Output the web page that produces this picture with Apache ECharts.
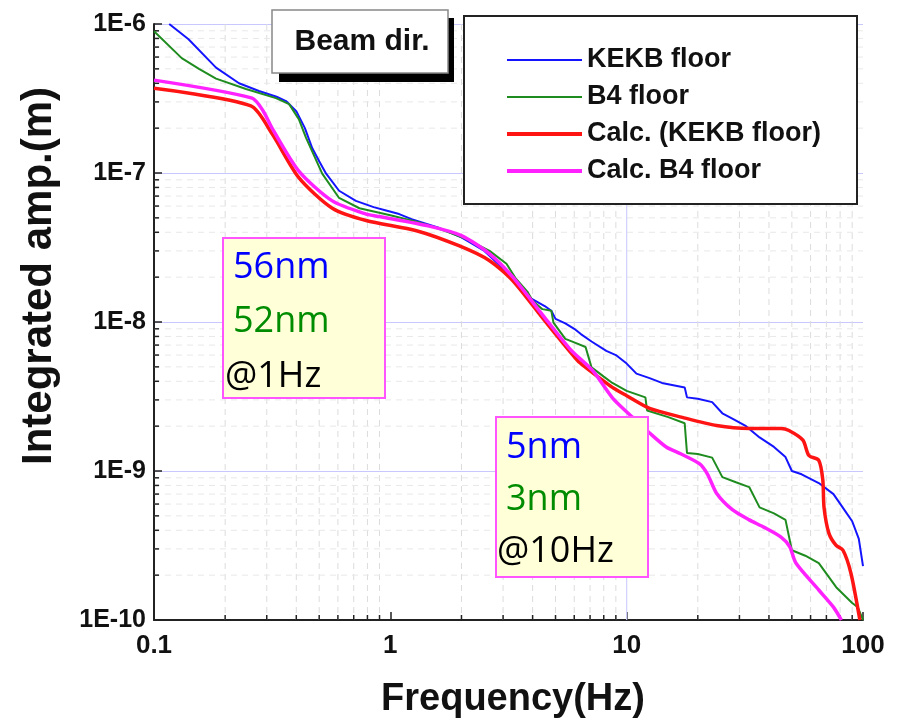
<!DOCTYPE html>
<html>
<head>
<meta charset="utf-8">
<script src="https://cdn.jsdelivr.net/npm/echarts@6/dist/echarts.min.js"></script>
<style>
  html, body { margin: 0; padding: 0; background: #fff; }
  #chart { width: 910px; height: 728px; }
</style>
</head>
<body>
<div id="chart"></div>
<script>
// [frequency (Hz), integrated amplitude (m)]
const kekbFloor = [
  [0.116, 1.0e-6], [0.14, 7.9e-7], [0.183, 5.1e-7], [0.229, 4.0e-7], [0.278, 3.55e-7],
  [0.33, 3.25e-7], [0.362, 3.04e-7], [0.40, 2.6e-7], [0.435, 2.0e-7], [0.467, 1.47e-7],
  [0.5, 1.2e-7], [0.535, 9.9e-8], [0.607, 7.6e-8], [0.715, 6.5e-8], [0.85, 5.9e-8],
  [0.96, 5.6e-8], [1.09, 5.3e-8], [1.23, 4.9e-8], [1.6, 4.3e-8], [2.0, 3.7e-8],
  [2.5, 3.0e-8], [2.9, 2.4e-8], [3.2, 2.0e-8], [3.6, 1.6e-8], [3.9, 1.45e-8],
  [4.5, 1.28e-8], [4.8, 1.19e-8], [5.0, 1.05e-8], [5.5, 9.8e-9], [6.0, 9.0e-9],
  [6.4, 8.3e-9], [7.1, 7.4e-9], [8.2, 6.4e-9], [9.0, 6.0e-9], [10, 5.26e-9],
  [11, 4.5e-9], [12.5, 4.2e-9], [14.1, 3.9e-9], [17.6, 3.64e-9], [18, 3.12e-9],
  [20, 3.05e-9], [23, 2.9e-9], [25.4, 2.44e-9], [28, 2.25e-9], [32, 2.0e-9],
  [36.5, 1.68e-9], [42, 1.45e-9], [47, 1.24e-9], [50, 1.0e-9], [55, 9.5e-10],
  [65, 8.3e-10], [75, 7.0e-10], [82, 5.7e-10], [90, 4.6e-10], [96, 3.5e-10], [100, 2.3e-10]
];
const b4Floor = [
  [0.1, 8.95e-7], [0.131, 5.9e-7], [0.155, 5.0e-7], [0.183, 4.3e-7], [0.245, 3.66e-7],
  [0.328, 3.18e-7], [0.373, 2.9e-7], [0.41, 2.3e-7], [0.44, 1.72e-7], [0.515, 9.9e-8],
  [0.607, 6.8e-8], [0.74, 5.8e-8], [1.0, 5.2e-8], [1.3, 4.7e-8], [1.7, 4.1e-8],
  [2.1, 3.6e-8], [2.63, 3.0e-8], [3.1, 2.46e-8], [3.4, 1.95e-8], [3.8, 1.6e-8],
  [4.0, 1.39e-8], [4.4, 1.22e-8], [4.8, 1.19e-8], [4.9, 9.9e-9], [5.5, 7.7e-9],
  [6.0, 7.3e-9], [6.7, 6.8e-9], [7.1, 4.96e-9], [8.0, 4.3e-9], [8.7, 3.9e-9],
  [10, 3.45e-9], [12.0, 3.12e-9], [12.2, 2.55e-9], [15, 2.3e-9], [17.6, 2.09e-9],
  [18, 1.32e-9], [20, 1.3e-9], [23, 1.23e-9], [25.4, 9.1e-10], [29, 8.4e-10],
  [33, 7.8e-10], [36.5, 5.7e-10], [42, 5.2e-10], [47, 4.7e-10], [50, 2.94e-10],
  [57, 2.7e-10], [65, 2.41e-10], [77, 1.66e-10], [90, 1.3e-10], [95, 1.22e-10], [100, 1.0e-10]
];
const calcKekb = [
  [0.1, 3.7e-7], [0.257, 2.82e-7], [0.316, 1.83e-7], [0.41, 9.3e-8], [0.568, 5.8e-8],
  [0.79, 4.8e-8], [1.29, 4.1e-8], [1.95, 3.25e-8], [2.63, 2.58e-8], [3.3, 1.89e-8],
  [4.5, 1.02e-8], [6.2, 5.5e-9], [6.7, 4.96e-9], [8.7, 3.64e-9], [10, 3.2e-9],
  [12.5, 2.63e-9], [17.2, 2.29e-9], [24, 2.02e-9], [33, 1.93e-9], [45, 1.93e-9],
  [48.6, 1.87e-9], [55.7, 1.61e-9], [59, 1.27e-9], [65, 1.18e-9], [67.6, 8.7e-10],
  [68.4, 5.7e-10], [71.7, 3.83e-10], [76.8, 3.18e-10], [82.3, 2.94e-10], [88.9, 2.06e-10],
  [97, 1.0e-10]
];
const calcB4 = [
  [0.1, 4.2e-7], [0.26, 3.18e-7], [0.29, 2.6e-7], [0.316, 2.0e-7], [0.41, 1.03e-7],
  [0.568, 6.5e-8], [0.79, 5.3e-8], [0.9, 5.1e-8], [1.46, 4.4e-8], [2.0, 3.8e-8],
  [2.63, 2.87e-8], [3.3, 2.0e-8], [4.5, 1.07e-8], [5.8, 6.5e-9], [7.2, 4.7e-9],
  [8.7, 3.1e-9], [10.6, 2.29e-9], [12.5, 1.8e-9], [14.7, 1.45e-9], [17, 1.3e-9],
  [20.3, 1.12e-9], [22, 9.5e-10], [24, 7.1e-10], [28, 5.5e-10], [33, 4.7e-10],
  [38, 4.2e-10], [45, 3.6e-10], [49, 3.1e-10], [52, 2.41e-10], [65, 1.59e-10],
  [75, 1.22e-10], [81, 1.0e-10]
];

const seriesNames = ['KEKB floor', 'B4 floor', 'Calc. (KEKB floor)', 'Calc. B4 floor'];
const seriesColors = ['#1414ff', '#1f8c1f', '#ff1414', '#ff22ff'];
const seriesWidths = [2, 2, 3.5, 3.5];
const seriesData = [kekbFloor, b4Floor, calcKekb, calcB4];

// minor grid positions (2..9 times each decade)
const minorMult = [2, 3, 4, 5, 6, 7, 8, 9];
const xDecades = [0.1, 1, 10];
const yDecades = [1e-10, 1e-9, 1e-8, 1e-7];
const xMinor = [];
xDecades.forEach(d => minorMult.forEach(m => xMinor.push([m * d, 1e-10])));
const yMinor = [];
yDecades.forEach(d => minorMult.forEach(m => yMinor.push([0.1, m * d])));

const boldFont = '"Liberation Sans", Arial, sans-serif';
const noteFont = '"Open Sans", "Noto Sans", sans-serif';

const chart = echarts.init(document.getElementById('chart'));

const option = {
  animation: false,
  backgroundColor: '#fff',
  grid: { left: 154, right: 47, top: 24, bottom: 108 },
  xAxis: {
    type: 'log',
    logBase: 10,
    min: 0.1,
    max: 100,
    axisLine: { lineStyle: { color: '#222', width: 2 } },
    axisTick: { inside: true, length: 8, lineStyle: { color: '#222', width: 1.5 } },
    axisLabel: {
      margin: 13,
      color: '#111',
      fontFamily: boldFont,
      fontWeight: 'bold',
      fontSize: 26,
      formatter: v => String(+(+v).toPrecision(3))
    },
    splitLine: { show: false }
  },
  yAxis: {
    type: 'log',
    logBase: 10,
    min: 1e-10,
    max: 1e-6,
    axisLine: { show: true, lineStyle: { color: '#222', width: 2 } },
    axisTick: { show: true, inside: true, length: 8, lineStyle: { color: '#222', width: 1.5 } },
    axisLabel: {
      margin: 8,
      color: '#111',
      fontFamily: boldFont,
      fontWeight: 'bold',
      fontSize: 25,
      formatter: v => '1E' + Math.round(Math.log10(v))
    },
    splitLine: { show: true, showMinLine: false, showMaxLine: false, lineStyle: { color: '#c8c8ff', width: 1.2 } }
  },
  legend: {
    data: seriesNames.map((name, i) => ({
      name: name,
      lineStyle: { width: i >= 2 ? 4 : 2 }
    })),
    orient: 'vertical',
    left: 500,
    top: 40,
    itemWidth: 75,
    itemHeight: 14,
    itemGap: 7,
    z: 200,
    itemStyle: { opacity: 0 },
    textStyle: {
      color: '#111',
      fontFamily: boldFont,
      fontWeight: 'bold',
      fontSize: 27,
      lineHeight: 30,
      padding: [0, 0, 0, 0]
    }
  },
  graphic: [
    // Beam dir. label with drop shadow
    { type: 'rect', z: 100, shape: { x: 279, y: 18, width: 175, height: 64 }, style: { fill: '#000' } },
    { type: 'rect', z: 101, shape: { x: 272, y: 10, width: 176, height: 63 }, style: { fill: '#fff', stroke: '#888', lineWidth: 1.5 } },
    { type: 'text', z: 102, x: 362, y: 42, style: { text: 'Beam dir.', fill: '#111', font: 'bold 30px ' + boldFont, align: 'center', verticalAlign: 'middle' } },
    // legend frame
    { type: 'rect', z: 100, shape: { x: 464, y: 16, width: 393, height: 188 }, style: { fill: '#fff', stroke: '#222', lineWidth: 2 } },
    // annotation boxes
    { type: 'rect', z: 100, shape: { x: 223, y: 238, width: 162, height: 160 }, style: { fill: '#ffffd8', stroke: '#ff55ff', lineWidth: 2 } },
    { type: 'text', z: 101, x: 233, y: 268, style: { text: '56nm', fill: '#0000ff', font: '36px ' + noteFont, verticalAlign: 'middle' } },
    { type: 'text', z: 101, x: 233, y: 322, style: { text: '52nm', fill: '#008c00', font: '36px ' + noteFont, verticalAlign: 'middle' } },
    { type: 'text', z: 101, x: 225, y: 377, style: { text: '@1Hz', fill: '#000', font: '36px ' + noteFont, verticalAlign: 'middle' } },
    { type: 'rect', z: 100, shape: { x: 496, y: 417, width: 152, height: 160 }, style: { fill: '#ffffd8', stroke: '#ff55ff', lineWidth: 2 } },
    { type: 'text', z: 101, x: 506, y: 448, style: { text: '5nm', fill: '#0000ff', font: '36px ' + noteFont, verticalAlign: 'middle' } },
    { type: 'text', z: 101, x: 506, y: 500, style: { text: '3nm', fill: '#008c00', font: '36px ' + noteFont, verticalAlign: 'middle' } },
    { type: 'text', z: 101, x: 497, y: 552, style: { text: '@10Hz', fill: '#000', font: '36px ' + noteFont, verticalAlign: 'middle' } },
    // axis titles
    { type: 'text', z: 50, x: 39, y: 276, rotation: Math.PI / 2, style: { text: 'Integrated amp.(m)', fill: '#111', font: 'bold 42px ' + boldFont, align: 'center', verticalAlign: 'middle' } },
    { type: 'text', z: 50, x: 513, y: 700, style: { text: 'Frequency(Hz)', fill: '#111', font: 'bold 38px ' + boldFont, align: 'center', verticalAlign: 'middle' } }
  ],
  series: [
    {
      // vertical minor grid + bottom minor ticks
      type: 'custom',
      silent: true,
      z: 1,
      data: xMinor,
      renderItem: (params, api) => {
        const p = api.coord([api.value(0), api.value(1)]);
        const cs = params.coordSys;
        return {
          type: 'group',
          children: [
            { type: 'line', shape: { x1: p[0], y1: cs.y, x2: p[0], y2: cs.y + cs.height }, style: { stroke: '#dcdcdc', lineWidth: 1, lineDash: [6, 5] } },
            { type: 'line', shape: { x1: p[0], y1: cs.y + cs.height, x2: p[0], y2: cs.y + cs.height - 5 }, style: { stroke: '#222', lineWidth: 1.5 } }
          ]
        };
      }
    },
    {
      // horizontal minor grid + left minor ticks
      type: 'custom',
      silent: true,
      z: 1,
      data: yMinor,
      renderItem: (params, api) => {
        const p = api.coord([api.value(0), api.value(1)]);
        const cs = params.coordSys;
        return {
          type: 'group',
          children: [
            { type: 'line', shape: { x1: cs.x, y1: p[1], x2: cs.x + cs.width, y2: p[1] }, style: { stroke: '#e8e8e8', lineWidth: 1, lineDash: [6, 5] } },
            { type: 'line', shape: { x1: cs.x, y1: p[1], x2: cs.x + 5, y2: p[1] }, style: { stroke: '#222', lineWidth: 1.5 } }
          ]
        };
      }
    },
    {
      // light blue vertical line at 10 Hz
      type: 'custom',
      silent: true,
      z: 1,
      data: [[10, 1e-10]],
      renderItem: (params, api) => {
        const p = api.coord([api.value(0), api.value(1)]);
        const cs = params.coordSys;
        return { type: 'line', shape: { x1: p[0], y1: cs.y, x2: p[0], y2: cs.y + cs.height }, style: { stroke: '#d0d0ff', lineWidth: 1.2 } };
      }
    }
  ].concat(seriesNames.map((name, i) => ({
    name: name,
    type: 'line',
    data: seriesData[i],
    showSymbol: false,
    symbol: 'none',
    smooth: i >= 2 ? 0.25 : false,
    z: 10 + i,
    color: seriesColors[i],
    lineStyle: { color: seriesColors[i], width: seriesWidths[i] }
  })))
};

chart.setOption(option);
</script>
</body>
</html>
